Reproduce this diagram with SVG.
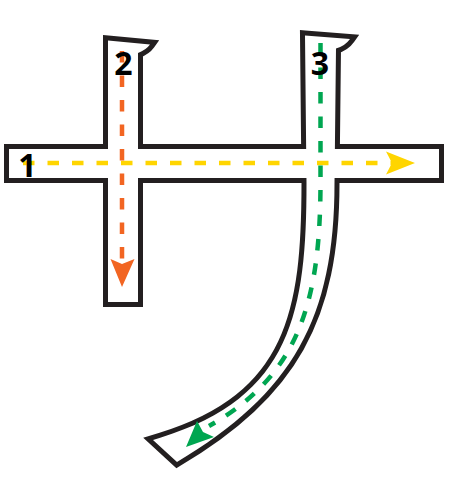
<svg xmlns="http://www.w3.org/2000/svg" xmlns:xlink="http://www.w3.org/1999/xlink" width="450" height="500" viewBox="0 0 450 500">
  <style>
    .outline { fill: #ffffff; stroke: #231F20; stroke-width: 10; stroke-linejoin: miter; stroke-miterlimit: 4; }
    .fill { fill: #ffffff; stroke: none; }
    .dash { fill: none; stroke-width: 4.5; stroke-dasharray: 11.5 13; }
    .label { font-family: "Open Sans", "Liberation Sans", sans-serif; font-weight: 700; font-size: 32px; fill: #000000; text-anchor: middle; }
  </style>
  <defs>
    <path id="s1" d="M9,149 L439,149 L439,178 L9,178 Z"/>
    <path id="s2" d="M108,40.5 L150,44.5 Q146,50 138,53 L138,302 L108,302 Z"/>
    <path id="s3" d="M305,35.5 L350,39 Q345,46 336,48.5 L334.5,183 C334.5,318 293,393 177,462 L153,440 L161,437.5 C292,397 306.5,311 306.5,183 Z"/>
  </defs>
  <rect width="450" height="500" fill="#ffffff"/>
  <g id="outlines">
    <use xlink:href="#s1" class="outline"/>
    <use xlink:href="#s2" class="outline"/>
    <use xlink:href="#s3" class="outline"/>
  </g>
  <g id="stroke-1"><use xlink:href="#s1" class="fill"/></g>
  <g id="stroke-2"><use xlink:href="#s2" class="fill"/></g>
  <g id="stroke-3"><use xlink:href="#s3" class="fill"/></g>
  <g id="connectors">
    <g id="arrow-1">
      <path class="dash" stroke="#FFD500" d="M23,163 L392,163"/>
      <polygon fill="#FFD500" points="415,163 386,151.5 392,163 386,174.5"/>
    </g>
    <g id="arrow-2">
      <path class="dash" stroke="#F26522" stroke-dasharray="12 12" d="M122,51 L122,262"/>
      <polygon fill="#F26522" points="122,287 110.5,259 122,264 134.5,259"/>
    </g>
    <g id="arrow-3">
      <path class="dash" stroke="#00A651" stroke-dasharray="12 12" d="M320.5,43 L320.5,185 C320,300 300,375 209,426"/>
      <polygon fill="#00A651" points="186,447 197,421 203,432 214,437"/>
    </g>
  </g>
  <g id="labels">
    <text class="label" x="27.5" y="177">1</text>
    <text class="label" x="123.5" y="75">2</text>
    <text class="label" x="320" y="75">3</text>
  </g>
</svg>
